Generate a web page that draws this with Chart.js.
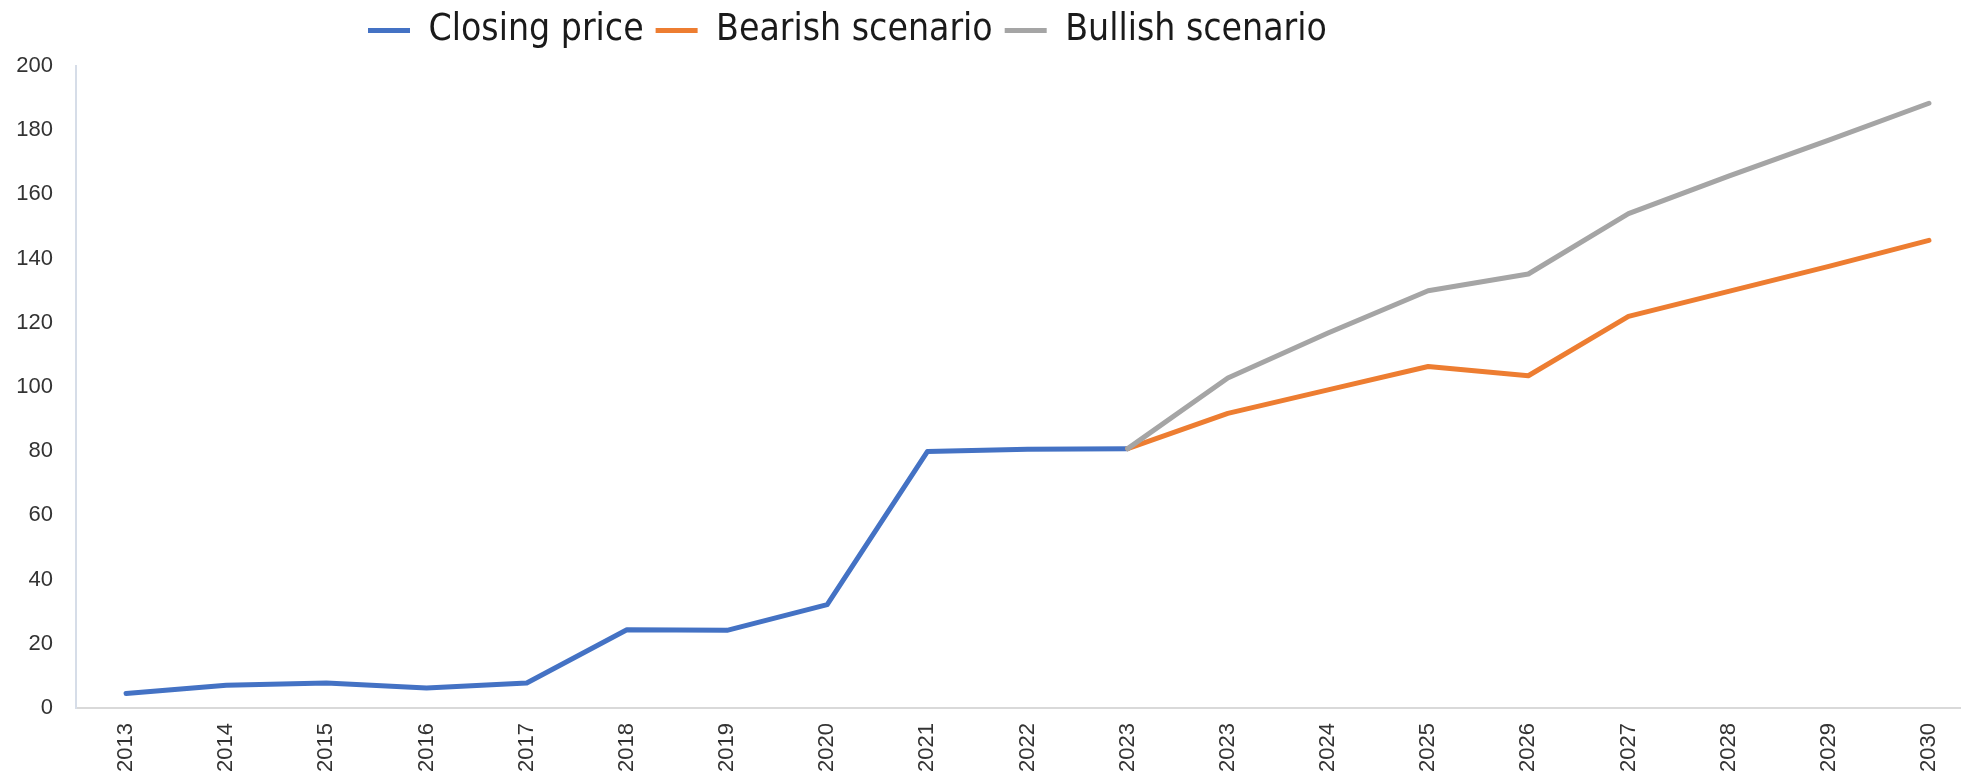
<!DOCTYPE html>
<html>
<head>
<meta charset="utf-8">
<script src="https://cdn.jsdelivr.net/npm/chart.js@4.4.0/dist/chart.umd.min.js"></script>
<style>
  html, body { margin: 0; padding: 0; background: #fff; overflow: hidden; }
  #wrap { width: 1961px; height: 777px; position: relative; }
</style>
</head>
<body>
<div id="wrap"><canvas id="priceChart"></canvas></div>
<script>
// x categories (2023 shows up twice in the source chart)
const years = ["2013", "2014", "2015", "2016", "2017", "2018", "2019", "2020", "2021", "2022",
    "2023", "2023", "2024", "2025", "2026", "2027", "2028", "2029", "2030"]

const closingPrice = [4.5, 7.1, 7.8, 6.2, 7.8, 24.4, 24.2, 32.2, 79.9, 80.6, 80.8,
    null, null, null, null, null, null, null, null]
const bearishScenario = [null, null, null, null, null, null, null, null, null, null, 80.8,
    91.8, 99.1, 106.4, 103.5, 122.0, 129.8, 137.6, 145.7]
const bullishScenario = [null, null, null, null, null, null, null, null, null, null, 80.8,
    102.8, 116.8, 130.0, 135.2, 154.0, 165.7, 176.9, 188.4]

const toPoints = (arr) => arr.map((v, i) => ({ x: i, y: v }))

const tickFont = { family: "'Liberation Sans', Arial, sans-serif", size: 22 }
const legendFont = { family: "'Liberation Sans Narrow', 'DejaVu Sans Condensed', sans-serif", size: 37, lineHeight: 1 }

// put the legend where the original had it (left of centre, near the top)
const legendShift = {
    id: 'legendShift',
    afterLayout(chart) {
        const lg = chart.legend
        if (!lg || !lg.lineWidths) return
        const p = lg.options.labels.padding
        const start = (lg.left + p + lg.right - lg.lineWidths[0]) / 2
        const d = 368 - start
        lg.left += d
        lg.right += d
        lg.top -= 7
        lg.bottom -= 7
    }
}

const lineSet = (label, data, color, order) => ({
    label: label,
    data: toPoints(data),
    borderColor: color,
    backgroundColor: color,
    borderWidth: 5,
    borderCapStyle: 'round',
    borderJoinStyle: 'round',
    pointRadius: 0,
    pointHoverRadius: 0,
    tension: 0,
    fill: false,
    order: order
})

new Chart(document.getElementById('priceChart').getContext('2d'), {
    type: 'line',
    data: {
        datasets: [
            lineSet("Closing price", closingPrice, '#4472C4', 2),
            lineSet("Bearish scenario", bearishScenario, '#ED7D31', 1),
            lineSet("Bullish scenario", bullishScenario, '#A5A5A5', 0)
        ]
    },
    plugins: [legendShift],
    options: {
        responsive: true,
        maintainAspectRatio: false,
        animation: false,
        layout: { padding: { top: 7, left: 0, right: 0, bottom: 0 } },
        plugins: {
            tooltip: { enabled: false },
            legend: {
                position: 'top',
                labels: {
                    usePointStyle: true,
                    pointStyle: 'line',
                    pointStyleWidth: 42,
                    padding: 12,
                    color: '#1a1a1a',
                    font: legendFont,
                    sort: (a, b) => a.datasetIndex - b.datasetIndex
                }
            }
        },
        scales: {
            x: {
                type: 'linear',
                min: -0.5,
                max: 18.32,
                grid: { display: false, drawTicks: false },
                border: { display: true, color: '#d9d9d9', width: 2 },
                afterBuildTicks: (scale) => {
                    scale.ticks = years.map((_, i) => ({ value: i }))
                },
                afterFit: (scale) => {
                    scale.paddingLeft = 0
                    scale.paddingRight = 0
                    scale.height = 69
                },
                ticks: {
                    autoSkip: false,
                    minRotation: 90,
                    maxRotation: 90,
                    padding: 15,
                    color: '#333',
                    font: tickFont,
                    callback: (value) => years[value]
                }
            },
            y: {
                min: 0,
                max: 200,
                grid: { display: false, drawTicks: false },
                border: { display: true, color: '#d6dde8', width: 2 },
                afterFit: (scale) => { scale.width = 76 },
                ticks: {
                    stepSize: 20,
                    padding: 23,
                    color: '#333',
                    font: tickFont
                }
            }
        }
    }
});
</script>
</body>
</html>
